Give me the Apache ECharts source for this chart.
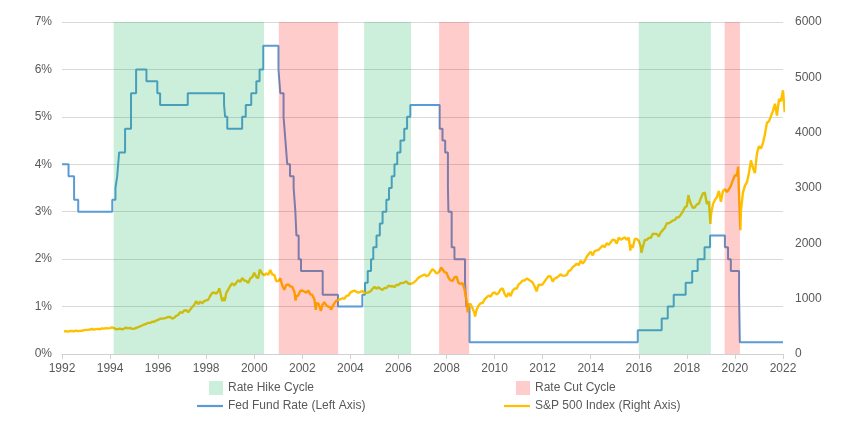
<!DOCTYPE html>
<html>
<head>
<meta charset="utf-8">
<script src="https://cdn.jsdelivr.net/npm/echarts@6/dist/echarts.min.js"></script>
<style>
  html, body { margin: 0; padding: 0; background: #fff; }
  #chart { width: 864px; height: 432px; }
</style>
</head>
<body>
<div id="chart"></div>
<script>
// x axis years
const yearMin = 1992
const yearMax = 2022
const yearStep = 2

// left axis (%) and right axis (index points)
const rateTicks = [0, 7, 1]
const spxTicks = [0, 6000, 1000]

// shaded cycles [start, end]
const hikeCycles = [
    ['1994-02-25', '2000-05-27'],
    ['2004-07-27', '2006-07-09'],
    ['2016-01-01', '2019-01-01']
]
const cutCycles = [
    ['2001-01-08', '2003-06-28'],
    ['2007-09-10', '2008-12-10'],
    ['2019-07-27', '2020-03-17']
]

// fed funds target: date of change, new rate
const fedRate = [
    ['1992-01-01', 4.0], ['1992-04-09', 3.75], ['1992-07-02', 3.25], ['1992-09-04', 3.0],
    ['1994-02-04', 3.25], ['1994-03-22', 3.5], ['1994-04-18', 3.75], ['1994-05-17', 4.25],
    ['1994-08-16', 4.75], ['1994-11-15', 5.5], ['1995-02-01', 6.0], ['1995-07-06', 5.75],
    ['1995-12-19', 5.5], ['1996-01-31', 5.25], ['1997-03-25', 5.5], ['1998-09-29', 5.25],
    ['1998-10-15', 5.0], ['1998-11-17', 4.75], ['1999-06-30', 5.0], ['1999-08-24', 5.25],
    ['1999-11-16', 5.5], ['2000-02-02', 5.75], ['2000-03-21', 6.0], ['2000-05-16', 6.5],
    ['2001-01-03', 6.0], ['2001-01-31', 5.5], ['2001-03-20', 5.0], ['2001-04-18', 4.5],
    ['2001-05-15', 4.0], ['2001-06-27', 3.75], ['2001-08-21', 3.5], ['2001-09-17', 3.0],
    ['2001-10-02', 2.5], ['2001-11-06', 2.0], ['2001-12-11', 1.75], ['2002-11-06', 1.25],
    ['2003-06-25', 1.0], ['2004-06-30', 1.25], ['2004-08-10', 1.5], ['2004-09-21', 1.75],
    ['2004-11-10', 2.0], ['2004-12-14', 2.25], ['2005-02-02', 2.5], ['2005-03-22', 2.75],
    ['2005-05-03', 3.0], ['2005-06-30', 3.25], ['2005-08-09', 3.5], ['2005-09-20', 3.75],
    ['2005-11-01', 4.0], ['2005-12-13', 4.25], ['2006-01-31', 4.5], ['2006-03-28', 4.75],
    ['2006-05-10', 5.0], ['2006-06-29', 5.25], ['2007-09-18', 4.75], ['2007-10-31', 4.5],
    ['2007-12-11', 4.25], ['2008-01-22', 3.5], ['2008-01-30', 3.0], ['2008-03-18', 2.25],
    ['2008-04-30', 2.0], ['2008-10-08', 1.5], ['2008-10-29', 1.0], ['2008-12-16', 0.25],
    ['2015-12-16', 0.5], ['2016-12-14', 0.75], ['2017-03-15', 1.0], ['2017-06-14', 1.25],
    ['2017-12-13', 1.5], ['2018-03-21', 1.75], ['2018-06-13', 2.0], ['2018-09-26', 2.25],
    ['2018-12-19', 2.5], ['2019-07-31', 2.25], ['2019-09-18', 2.0], ['2019-10-30', 1.75],
    ['2020-03-03', 1.25], ['2020-03-15', 0.25], ['2022-01-01', 0.25]
]

// S&P 500 month-end levels, Jan 1992 .. Dec 2021
const spxFirstYear = 1992
const spxMonthly = [
    409, 413, 404, 415, 415, 408, 424, 414, 418, 419, 431, 436,
    439, 443, 452, 440, 450, 451, 448, 464, 459, 468, 462, 467,
    482, 467, 446, 451, 457, 444, 458, 476, 463, 472, 454, 459,
    470, 487, 501, 515, 533, 545, 562, 562, 584, 582, 605, 616,
    636, 640, 646, 654, 669, 671, 640, 652, 687, 705, 757, 741,
    786, 791, 757, 801, 848, 885, 954, 900, 947, 915, 955, 970,
    980, 1049, 1102, 1112, 1091, 1134, 1121, 957, 1017, 1099, 1164, 1229,
    1280, 1238, 1286, 1335, 1302, 1373, 1329, 1320, 1283, 1363, 1389, 1469,
    1395, 1366, 1499, 1452, 1421, 1455, 1431, 1518, 1437, 1429, 1315, 1320,
    1366, 1240, 1160, 1250, 1256, 1224, 1211, 1134, 1041, 1060, 1140, 1148,
    1130, 1107, 1147, 1077, 1067, 990, 912, 916, 815, 886, 936, 880,
    856, 841, 848, 917, 964, 975, 990, 1008, 996, 1051, 1058, 1112,
    1131, 1145, 1126, 1107, 1121, 1141, 1102, 1104, 1115, 1130, 1174, 1212,
    1181, 1204, 1181, 1157, 1192, 1191, 1234, 1220, 1229, 1207, 1250, 1248,
    1280, 1281, 1295, 1311, 1270, 1270, 1277, 1304, 1336, 1378, 1401, 1418,
    1438, 1407, 1421, 1482, 1531, 1503, 1455, 1474, 1527, 1549, 1481, 1468,
    1379, 1331, 1323, 1386, 1400, 1280, 1267, 1283, 1166, 969, 896, 903,
    826, 735, 798, 873, 919, 919, 988, 1021, 1057, 1036, 1096, 1115,
    1074, 1105, 1169, 1187, 1089, 1031, 1102, 1049, 1141, 1183, 1181, 1258,
    1286, 1327, 1326, 1364, 1345, 1321, 1292, 1219, 1131, 1253, 1247, 1258,
    1312, 1366, 1409, 1398, 1310, 1362, 1379, 1407, 1441, 1412, 1416, 1426,
    1498, 1515, 1569, 1598, 1631, 1606, 1686, 1633, 1682, 1757, 1806, 1848,
    1783, 1860, 1872, 1884, 1924, 1960, 1931, 2003, 1972, 2018, 2068, 2059,
    1995, 2105, 2068, 2086, 2107, 2063, 2104, 1972, 1920, 2079, 2080, 2044,
    1940, 1932, 2060, 2065, 2097, 2099, 2174, 2171, 2168, 2126, 2199, 2239,
    2279, 2364, 2363, 2384, 2412, 2423, 2470, 2472, 2519, 2575, 2648, 2674,
    2824, 2714, 2641, 2648, 2705, 2718, 2816, 2902, 2914, 2712, 2760, 2507,
    2704, 2785, 2834, 2946, 2752, 2942, 2980, 2927, 2977, 3038, 3141, 3231,
    3226, 2954, 2585, 2912, 3044, 3100, 3271, 3500, 3363, 3270, 3622, 3756,
    3714, 3811, 3973, 4181, 4204, 4298, 4395, 4523, 4308, 4605, 4567, 4766
]
// intra-month highs and lows seen on the line
const spxSwings = [
    ['1998-07-17', 1186], ['1998-10-08', 959], ['2000-03-24', 1527], ['2000-09-01', 1520],
    ['2001-09-21', 966], ['2002-07-23', 797], ['2002-10-09', 777], ['2003-03-11', 800],
    ['2007-10-09', 1565], ['2008-11-20', 752], ['2009-03-09', 677], ['2010-07-02', 1023],
    ['2011-10-03', 1099], ['2015-08-25', 1868], ['2016-02-11', 1829], ['2018-01-26', 2873],
    ['2018-12-24', 2351], ['2020-02-19', 3386], ['2020-03-23', 2237], ['2022-01-03', 4796],
    ['2022-01-27', 4370]
]

const yr = s => {
    const [y, m, d] = s.split('-').map(Number)
    return y + (m - 1) / 12 + (d - 1) / 365
}

const spxData = spxMonthly
    .map((v, i) => [spxFirstYear + (i + 1) / 12 - 0.001, v])
    .concat(spxSwings.map(([d, v]) => [yr(d), v]))
    .sort((a, b) => a[0] - b[0])

const fedData = fedRate.map(([d, v]) => [yr(d), v])

const gray = '#595959'
const font = 'Liberation Sans'

const band = (list) => list.map(([a, b]) => [{ xAxis: yr(a) }, { xAxis: yr(b) }])

const legendBase = {
    padding: 0,
    itemHeight: 14,
    textStyle: { color: gray, fontSize: 12, fontFamily: font }
}

const chart = echarts.init(document.getElementById('chart'))
chart.setOption({
    animation: false,
    textStyle: { fontFamily: font },
    grid: { left: 62, right: 81, top: 22, bottom: 78 },
    legend: [
        Object.assign({ data: ['Rate Hike Cycle'], left: 209, top: 381, itemWidth: 14, icon: 'rect' }, legendBase),
        Object.assign({ data: ['Rate Cut Cycle'], left: 516, top: 381, itemWidth: 14, icon: 'rect' }, legendBase),
        Object.assign({ data: ['Fed Fund Rate (Left Axis)'], left: 197, top: 400, itemWidth: 26, icon: 'path://M0,6h26v2.2h-26z' }, legendBase),
        Object.assign({ data: ['S&P 500 Index (Right Axis)'], left: 504, top: 400, itemWidth: 26, icon: 'path://M0,6h26v2.2h-26z' }, legendBase)
    ],
    xAxis: {
        type: 'value',
        min: yearMin,
        max: yearMax,
        interval: yearStep,
        axisLine: { lineStyle: { color: '#d0d0d0' } },
        axisTick: { show: true, length: 5, lineStyle: { color: '#d0d0d0' } },
        axisLabel: { color: gray, fontSize: 12, margin: 9, formatter: v => String(v) },
        splitLine: { show: false }
    },
    yAxis: [
        {
            type: 'value',
            min: rateTicks[0],
            max: rateTicks[1],
            interval: rateTicks[2],
            axisLine: { show: false },
            axisTick: { show: false },
            axisLabel: { color: gray, fontSize: 12, margin: 10, formatter: '{value}%' },
            splitLine: { lineStyle: { color: '#d9d9d9' } }
        },
        {
            type: 'value',
            min: spxTicks[0],
            max: spxTicks[1],
            interval: spxTicks[2],
            axisLine: { show: false },
            axisTick: { show: false },
            axisLabel: { color: gray, fontSize: 12, margin: 12, formatter: v => String(v) },
            splitLine: { show: false }
        }
    ],
    series: [
        {
            name: 'Fed Fund Rate (Left Axis)',
            type: 'line',
            step: 'end',
            showSymbol: false,
            color: '#5b9bd5',
            lineStyle: { width: 2, color: '#5b9bd5' },
            z: 2,
            data: fedData
        },
        {
            name: 'S&P 500 Index (Right Axis)',
            type: 'line',
            yAxisIndex: 1,
            showSymbol: false,
            color: '#ffc000',
            lineStyle: { width: 2.4, color: '#ffc000' },
            z: 3,
            data: spxData
        },
        {
            name: 'Rate Hike Cycle',
            type: 'line',
            color: '#ccefdc',
            data: [],
            markArea: {
                silent: true,
                z: 10,
                itemStyle: { color: 'rgba(0,176,80,0.2)' },
                data: band(hikeCycles)
            }
        },
        {
            name: 'Rate Cut Cycle',
            type: 'line',
            color: '#ffcccc',
            data: [],
            markArea: {
                silent: true,
                z: 10,
                itemStyle: { color: 'rgba(255,0,0,0.2)' },
                data: band(cutCycles)
            }
        }
    ]
})
</script>
</body>
</html>
